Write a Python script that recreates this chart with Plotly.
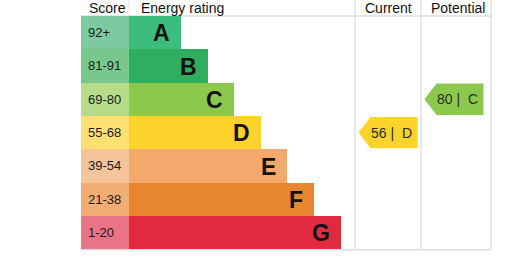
import plotly.graph_objects as go

# ---- data ----
ratings = ["A", "B", "C", "D", "E", "F", "G"]
score_labels = ["92+", "81-91", "69-80", "55-68", "39-54", "21-38", "1-20"]
band_lower = [92, 81, 69, 55, 39, 21, 1]
bar_colors = ["#3dbd7d", "#2eae5e", "#8cc84b", "#fbd32b", "#f3a96b", "#e8852f", "#e1293f"]
score_colors = ["#7dcaa0", "#78c88e", "#b6dc8a", "#fde071", "#f5c49b", "#f0ad74", "#ea7388"]
current_value = 56
potential_value = 80
headers = ["Score", "Energy rating", "Current", "Potential"]

# ---- layout constants (pixel-like x units) ----
W, H = 532, 266
ROW_H = 33.3
TOP = 16.0
score_x0, score_w = 81, 48
bar_x0 = 129
bar_min, bar_step = 52, 26.6
cur_col = (355, 421)
pot_col = (421, 491)
grid_color = "#dddddd"
FONT = "Arial, Liberation Sans, sans-serif"

y_top = -0.5 - TOP / ROW_H
y_bot = y_top + H / ROW_H
hdr_y = -0.5 - (TOP - 7.5) / ROW_H
bottom_y = 6.5
line_top = y_top


def band_index(v):
    for i, lo in enumerate(band_lower):
        if v >= lo:
            return i
    return len(band_lower) - 1


idx = list(range(len(ratings)))
lengths = [bar_min + bar_step * i for i in idx]

fig = go.Figure()

# score column
fig.add_trace(go.Bar(
    orientation="h", y=idx, x=[score_w] * len(idx), base=score_x0, width=1,
    marker=dict(color=score_colors, line=dict(width=0)), hoverinfo="skip",
    showlegend=False))

# rating bars
fig.add_trace(go.Bar(
    orientation="h", y=idx, x=lengths, base=bar_x0, width=1,
    marker=dict(color=bar_colors, line=dict(width=0)), hoverinfo="skip",
    showlegend=False))

annotations = []
for i in idx:
    annotations.append(dict(x=score_x0 + 4.5, y=i, text=score_labels[i], showarrow=False,
                            xanchor="left", yanchor="middle",
                            font=dict(family=FONT, size=13, color="#1a1a1a")))
    annotations.append(dict(x=bar_x0 + lengths[i] - 9, y=i + 0.02, text="<b>%s</b>" % ratings[i],
                            showarrow=False, xanchor="right", yanchor="middle",
                            font=dict(family=FONT, size=23, color="#111111")))

# headers
hfont = dict(family=FONT, size=14, color="#111111")
annotations.append(dict(x=score_x0 + 5.5, y=hdr_y, text=headers[0], showarrow=False, xanchor="left",
                        yanchor="middle", font=hfont))
annotations.append(dict(x=bar_x0 + 9.5, y=hdr_y, text=headers[1], showarrow=False, xanchor="left",
                        yanchor="middle", font=hfont))
annotations.append(dict(x=(cur_col[0] + cur_col[1]) / 2, y=hdr_y, text=headers[2], showarrow=False,
                        xanchor="center", yanchor="middle", font=hfont))
annotations.append(dict(x=(pot_col[0] + pot_col[1]) / 2 + 2, y=hdr_y, text=headers[3], showarrow=False,
                        xanchor="center", yanchor="middle", font=hfont))

# arrows
ARW_W, TIP_W, HALF = 59, 12, 0.47
for col, val in [(cur_col, current_value), (pot_col, potential_value)]:
    r = band_index(val)
    tip = col[0] + 3.5
    xs = [tip, tip + TIP_W, tip + ARW_W, tip + ARW_W, tip + TIP_W, tip]
    ys = [r, r - HALF, r - HALF, r + HALF, r + HALF, r]
    fig.add_trace(go.Scatter(x=xs, y=ys, mode="lines", fill="toself",
                             fillcolor=bar_colors[r], line=dict(width=0, color=bar_colors[r]),
                             hoverinfo="skip", showlegend=False))
    annotations.append(dict(x=tip + 33, y=r, text="%d |  %s" % (val, ratings[r]), showarrow=False,
                            xanchor="center", yanchor="middle",
                            font=dict(family=FONT, size=14, color="#2a2a2a")))

shapes = []
# vertical grid lines
for xv in [cur_col[0], cur_col[1], pot_col[1]]:
    shapes.append(dict(type="line", x0=xv, x1=xv, y0=line_top, y1=bottom_y,
                       line=dict(color=grid_color, width=1.3), layer="below"))
shapes.append(dict(type="line", x0=bar_x0, x1=bar_x0, y0=line_top, y1=-0.5,
                   line=dict(color="#e6e6e6", width=1), layer="below"))
# header line and bottom line
shapes.append(dict(type="line", x0=score_x0, x1=pot_col[1], y0=-0.5, y1=-0.5,
                   line=dict(color=grid_color, width=1.3), layer="below"))
shapes.append(dict(type="line", x0=score_x0, x1=pot_col[1], y0=bottom_y + 0.02, y1=bottom_y + 0.02,
                   line=dict(color=grid_color, width=1.5), layer="below"))

fig.update_layout(
    width=W, height=H, margin=dict(l=0, r=0, t=0, b=0),
    paper_bgcolor="white", plot_bgcolor="white",
    xaxis=dict(range=[0, W], visible=False, fixedrange=True),
    yaxis=dict(range=[y_bot, y_top], visible=False, fixedrange=True),
    barmode="overlay", bargap=0, showlegend=False,
    annotations=annotations, shapes=shapes,
)

fig.write_html("out.html")
